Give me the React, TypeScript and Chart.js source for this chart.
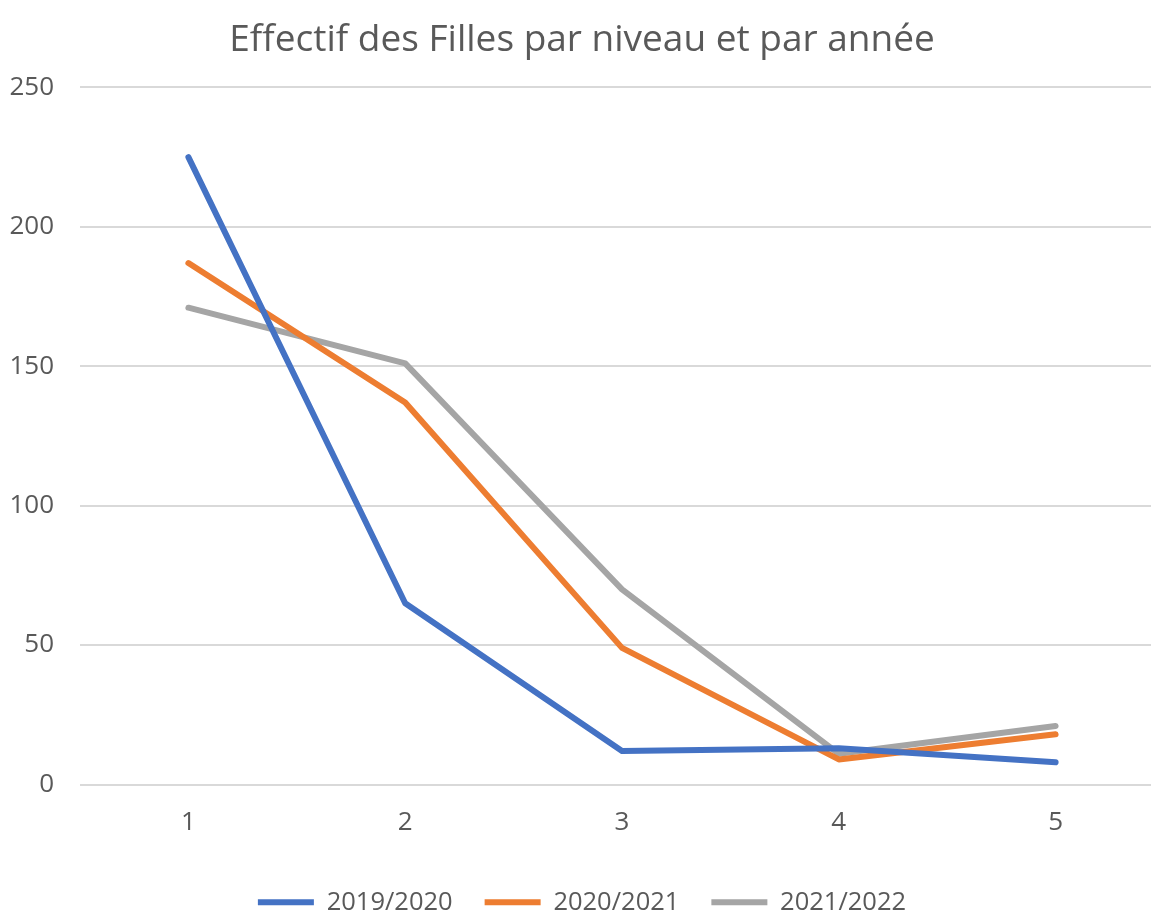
import React, { useEffect, useRef } from "react";
import { Chart, registerables } from "chart.js";

Chart.register(...registerables);

const categories = ["1", "2", "3", "4", "5"];
const series2019 = [225, 65, 12, 13, 8];
const series2020 = [187, 137, 49, 9, 18];
const series2021 = [171, 151, 70, 11, 21];
const seriesNames = ["2019/2020", "2020/2021", "2021/2022"];
const seriesColors = ["#4472C4", "#ED7D31", "#A5A5A5"];
const titleText = "Effectif des Filles par niveau et par année";

const FONT = "'Open Sans', 'Noto Sans', sans-serif";

export default function App() {
  const ref = useRef<HTMLCanvasElement | null>(null);

  useEffect(() => {
    document.body.style.margin = "0";
    const values = [series2019, series2020, series2021];
    const chart = new Chart(ref.current as HTMLCanvasElement, {
      type: "line",
      data: {
        labels: categories,
        datasets: values.map((v, i) => ({
          label: seriesNames[i],
          data: v,
          borderColor: seriesColors[i],
          backgroundColor: seriesColors[i],
          borderWidth: 6,
          borderCapStyle: "round" as const,
          borderJoinStyle: "round" as const,
          pointRadius: 0,
          pointHoverRadius: 0,
          tension: 0,
          fill: false,
        })),
      },
      options: {
        responsive: false,
        animation: false,
        layout: { padding: { left: 0, right: 0, top: 0, bottom: 0 } },
        plugins: {
          title: {
            display: true,
            text: titleText,
            color: "#595959",
            font: { family: FONT, size: 37, weight: "normal" },
            padding: { top: 18, bottom: 25 },
          },
          legend: {
            position: "bottom",
            labels: {
              color: "#595959",
              font: { family: FONT, size: 25.5 },
              usePointStyle: true,
              pointStyle: "line",
              pointStyleWidth: 56,
              padding: 32,
            },
          },
          tooltip: { enabled: false },
        },
        scales: {
          x: {
            type: "category",
            offset: true,
            grid: { display: false, drawTicks: false },
            border: { display: false },
            ticks: {
              color: "#595959",
              font: { family: FONT, size: 26 },
              padding: 22,
            },
            afterFit: (axis: any) => {
              axis.height = 73;
            },
          },
          y: {
            min: 0,
            max: 250,
            ticks: {
              stepSize: 50,
              color: "#595959",
              font: { family: FONT, size: 26 },
              padding: 26,
            },
            grid: { color: "#D9D9D9", lineWidth: 2, drawTicks: false },
            border: { display: false },
            afterFit: (axis: any) => {
              axis.width = 80;
            },
          },
        },
      },
    });
    return () => chart.destroy();
  }, []);

  return (
    <div style={{ width: 1151, height: 915, overflow: "hidden", background: "#fff" }}>
      <canvas ref={ref} width={1164} height={925} style={{ display: "block" }} />
    </div>
  );
}
